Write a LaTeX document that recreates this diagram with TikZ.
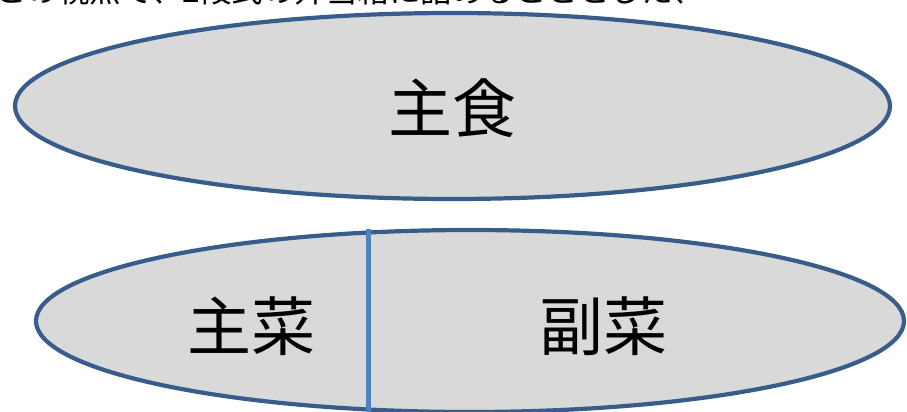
\documentclass[tikz,border=0pt]{standalone}
\usepackage{fontspec}
\newfontfamily\cjk{Noto Sans CJK JP}
\definecolor{ellline}{HTML}{385D8A}
\definecolor{ellfill}{HTML}{D9D9D9}
\definecolor{divline}{HTML}{4F81BD}
\begin{document}
\begin{tikzpicture}[x=1pt,y=-1pt,
  dish/.style={draw=ellline,fill=ellfill,line width=4.2pt},
  bigtxt/.style={font=\cjk\fontsize{64}{64}\selectfont,inner sep=0pt},
  toptxt/.style={font=\cjk\fontsize{31.5}{31.5}\selectfont,inner sep=0pt,anchor=base west}]
\useasboundingbox (0,0) rectangle (907,412);
\draw[dish] (452.5,106) ellipse [x radius=437.5, y radius=93];
\node[bigtxt] (shushoku) at (452,108) {主食};
\begin{scope}
\clip (0,0) rectangle (907,412);
\draw[dish] (470,321) ellipse [x radius=434, y radius=91];
\coordinate (divtop) at (368,229);
\coordinate (divbot) at (368,412);
\draw[divline,line width=5pt] (divtop) -- (divbot);
\end{scope}
\node[bigtxt] (shusai) at (251,326) {主菜};
\node[bigtxt] (fukusai) at (603,326) {副菜};
\node[toptxt] (header) at (-5,3) {この視点で、2段式の弁当箱に詰めることとした、};
\end{tikzpicture}
\end{document}
